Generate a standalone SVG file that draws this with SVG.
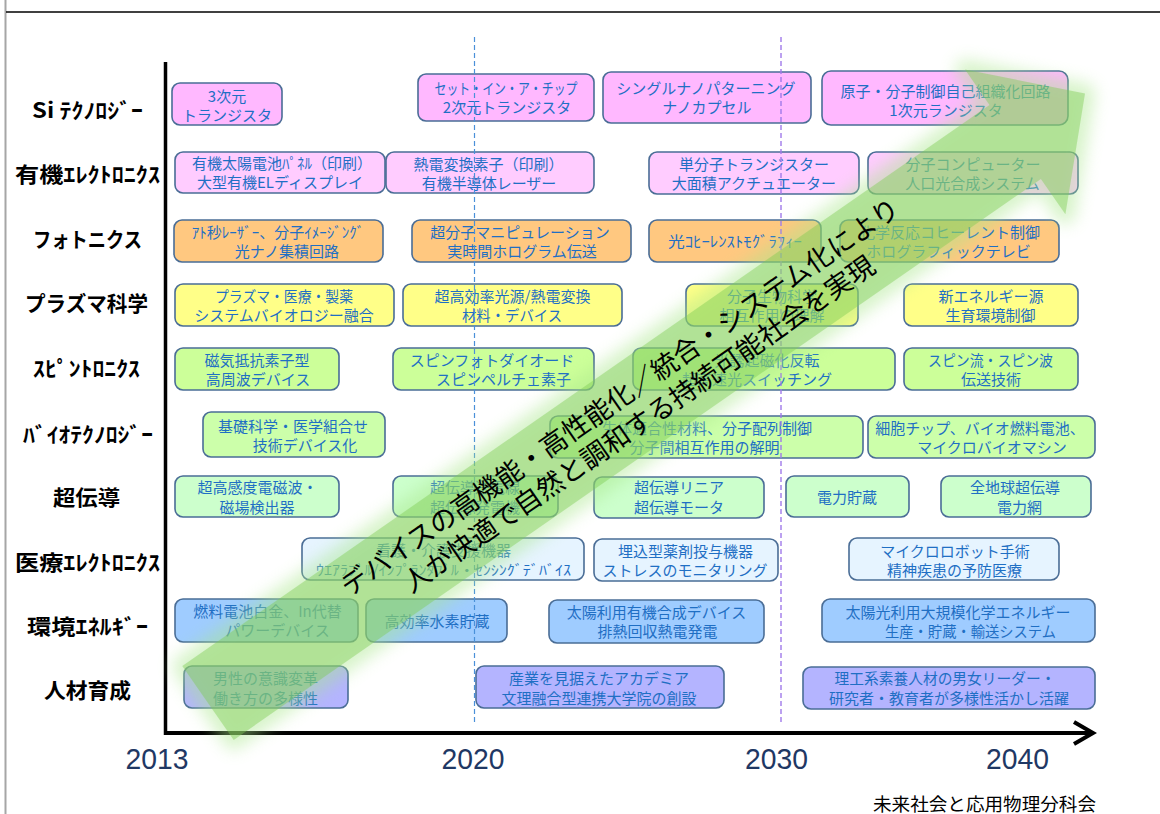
<svg xmlns="http://www.w3.org/2000/svg" width="1160" height="814" viewBox="0 0 1160 814">
<style>
.bx rect{stroke:#4A6D96;stroke-width:1.6}
.bt{font-family:"Noto Sans CJK JP","Noto Sans",sans-serif;font-size:15px;fill:#1F6FC4;text-anchor:middle}
.lbl{font-family:"Noto Sans CJK JP","Noto Sans",sans-serif;font-size:21px;font-weight:700;fill:#000}
.yr{font-family:"Liberation Sans",Arial,sans-serif;font-size:30px;fill:#1F3864}
.at{font-family:"Noto Sans CJK JP","Noto Sans",sans-serif;font-size:27px;fill:#000;text-anchor:middle}
.f1{fill:#FFB8FF}.f2{fill:#FFCCFF}.f3{fill:#FFC880}.f4{fill:#FFFF88}.f5{fill:#CCFF99}
.f6{fill:#CCFFAA}.f7{fill:#CCFFCC}.f8{fill:#E6F4FF}.f9{fill:#9FCCFF}.f10{fill:#B4B4FF}
</style>
<defs>
<filter id="blur" x="-20%" y="-20%" width="140%" height="140%"><feGaussianBlur stdDeviation="8"/></filter>
</defs>
<rect width="1160" height="814" fill="#fff"/>
<g id="frame">
<line x1="5.5" y1="0" x2="5.5" y2="814" stroke="#A6A6A6" stroke-width="2"/>
<line x1="6" y1="12" x2="1160" y2="12" stroke="#000" stroke-width="1.5"/>
</g>

<g id="row-labels">
<g id="lbl-si"><text class="lbl" x="32" y="118" textLength="111" lengthAdjust="spacingAndGlyphs">Si ﾃｸﾉﾛｼﾞｰ</text></g>
<g id="lbl-org"><text class="lbl" x="15" y="182" textLength="145" lengthAdjust="spacingAndGlyphs">有機ｴﾚｸﾄﾛﾆｸｽ</text></g>
<g id="lbl-photo"><text class="lbl" x="33" y="247" textLength="109" lengthAdjust="spacingAndGlyphs">フォトニクス</text></g>
<g id="lbl-plasma"><text class="lbl" x="25" y="311" textLength="123" lengthAdjust="spacingAndGlyphs">プラズマ科学</text></g>
<g id="lbl-spin"><text class="lbl" x="33" y="376" textLength="107" lengthAdjust="spacingAndGlyphs">ｽﾋﾟﾝﾄﾛﾆｸｽ</text></g>
<g id="lbl-bio"><text class="lbl" x="23" y="442" textLength="130" lengthAdjust="spacingAndGlyphs">ﾊﾞｲｵﾃｸﾉﾛｼﾞｰ</text></g>
<g id="lbl-sc"><text class="lbl" x="53" y="505" textLength="67" lengthAdjust="spacingAndGlyphs">超伝導</text></g>
<g id="lbl-med"><text class="lbl" x="15" y="570" textLength="145" lengthAdjust="spacingAndGlyphs">医療ｴﾚｸﾄﾛﾆｸｽ</text></g>
<g id="lbl-env"><text class="lbl" x="27" y="634" textLength="121" lengthAdjust="spacingAndGlyphs">環境ｴﾈﾙｷﾞｰ</text></g>
<g id="lbl-hr"><text class="lbl" x="44" y="698" textLength="87" lengthAdjust="spacingAndGlyphs">人材育成</text></g>
</g>

<g id="nodes">
<g id="n-si-1" class="bx"><rect class="f1" x="172" y="83" width="110" height="42" rx="8"/><text class="bt"><tspan x="227" y="101.7">3次元</tspan><tspan x="227" y="120.7">トランジスタ</tspan></text></g>
<g id="n-si-2" class="bx"><rect class="f1" x="418" y="74" width="176" height="47" rx="8"/><text class="bt"><tspan x="434.5" y="94.2" style="text-anchor:start" textLength="143" lengthAdjust="spacingAndGlyphs">セット・イン・ア・チップ</tspan><tspan x="507" y="113.2">2次元トランジスタ</tspan></text></g>
<g id="n-si-3" class="bx"><rect class="f1" x="603" y="72" width="208" height="51" rx="8"/><text class="bt"><tspan x="706" y="93.5">シングルナノパターニング</tspan><tspan x="707" y="112.5">ナノカプセル</tspan></text></g>
<g id="n-si-4" class="bx"><rect class="f1" x="822" y="71" width="246" height="54" rx="9"/><text class="bt"><tspan x="945.5" y="96.5">原子・分子制御自己組織化回路</tspan><tspan x="946" y="115.5">1次元ランジスタ</tspan></text></g>

<g id="n-org-1" class="bx"><rect class="f2" x="175" y="152" width="210" height="41" rx="8"/><text class="bt"><tspan x="282" y="169">有機太陽電池ﾊﾟﾈﾙ（印刷）</tspan><tspan x="280" y="188.4">大型有機ELディスプレイ</tspan></text></g>
<g id="n-org-2" class="bx"><rect class="f2" x="386" y="152" width="208" height="41" rx="8"/><text class="bt"><tspan x="488.5" y="169.7">熱電変換素子（印刷）</tspan><tspan x="489" y="189">有機半導体レーザー</tspan></text></g>
<g id="n-org-3" class="bx"><rect class="f2" x="649" y="152" width="210" height="42" rx="8"/><text class="bt"><tspan x="754" y="169.5">単分子トランジスター</tspan><tspan x="754" y="189">大面積アクチュエーター</tspan></text></g>
<g id="n-org-4" class="bx"><rect class="f2" x="868" y="152" width="210" height="42" rx="8"/><text class="bt"><tspan x="973" y="169.5">分子コンピューター</tspan><tspan x="972.5" y="189">人口光合成システム</tspan></text></g>

<g id="n-ph-1" class="bx"><rect class="f3" x="174" y="220" width="209" height="42" rx="8"/><text class="bt"><tspan x="278" y="238">ｱﾄ秒ﾚｰｻﾞｰ、分子ｲﾒｰｼﾞﾝｸﾞ</tspan><tspan x="287" y="257">光ナノ集積回路</tspan></text></g>
<g id="n-ph-2" class="bx"><rect class="f3" x="412" y="220" width="219" height="42" rx="8"/><text class="bt"><tspan x="520" y="238">超分子マニピュレーション</tspan><tspan x="522" y="257">実時間ホログラム伝送</tspan></text></g>
<g id="n-ph-3" class="bx"><rect class="f3" x="649" y="220" width="172" height="42" rx="8"/><text class="bt" x="668" y="247" style="text-anchor:start" textLength="134" lengthAdjust="spacingAndGlyphs">光ｺﾋｰﾚﾝｽﾄﾓｸﾞﾗﾌｨｰ</text></g>
<g id="n-ph-4" class="bx"><rect class="f3" x="840" y="220" width="219" height="42" rx="8"/><text class="bt"><tspan x="950" y="238">化学反応コヒーレント制御</tspan><tspan x="948.5" y="257">ホログラフィックテレビ</tspan></text></g>

<g id="n-pl-1" class="bx"><rect class="f4" x="175" y="284" width="219" height="42" rx="8"/><text class="bt"><tspan x="215" y="301.7" style="text-anchor:start" textLength="138" lengthAdjust="spacingAndGlyphs">プラズマ・医療・製薬</tspan><tspan x="284" y="320.7">システムバイオロジー融合</tspan></text></g>
<g id="n-pl-2" class="bx"><rect class="f4" x="403" y="284" width="219" height="42" rx="8"/><text class="bt"><tspan x="512.5" y="301.7">超高効率光源/熱電変換</tspan><tspan x="462" y="320.7" style="text-anchor:start" textLength="100" lengthAdjust="spacingAndGlyphs">材料・デバイス</tspan></text></g>
<g id="n-pl-3" class="bx"><rect class="f4" x="686" y="284" width="172" height="42" rx="8"/><text class="bt"><tspan x="772" y="301.7">分子生物科学</tspan><tspan x="772" y="320.7">相互作用の理解</tspan></text></g>
<g id="n-pl-4" class="bx"><rect class="f4" x="904" y="284" width="174" height="42" rx="8"/><text class="bt"><tspan x="991" y="301.7">新エネルギー源</tspan><tspan x="990.5" y="320.7">生育環境制御</tspan></text></g>

<g id="n-sp-1" class="bx"><rect class="f5" x="175" y="348" width="164" height="42" rx="8"/><text class="bt"><tspan x="257" y="365.7">磁気抵抗素子型</tspan><tspan x="258" y="384.7">高周波デバイス</tspan></text></g>
<g id="n-sp-2" class="bx"><rect class="f5" x="393" y="348" width="201" height="42" rx="8"/><text class="bt"><tspan x="492" y="365.7">スピンフォトダイオード</tspan><tspan x="503.5" y="384.7">スピンペルチェ素子</tspan></text></g>
<g id="n-sp-3" class="bx"><rect class="f5" x="633" y="348" width="262" height="42" rx="8"/><text class="bt"><tspan x="767" y="365.7">光誘起磁化反転</tspan><tspan x="757" y="384.7">超高速光スイッチング</tspan></text></g>
<g id="n-sp-4" class="bx"><rect class="f5" x="904" y="348" width="174" height="42" rx="8"/><text class="bt"><tspan x="928" y="365.7" style="text-anchor:start" textLength="125" lengthAdjust="spacingAndGlyphs">スピン流・スピン波</tspan><tspan x="991" y="384.7">伝送技術</tspan></text></g>

<g id="n-bio-1" class="bx"><rect class="f6" x="203" y="412" width="182" height="45" rx="8"/><text class="bt"><tspan x="293" y="432">基礎科学・医学組合せ</tspan><tspan x="305" y="451">技術デバイス化</tspan></text></g>
<g id="n-bio-2" class="bx"><rect class="f6" x="550" y="416" width="313" height="42" rx="8"/><text class="bt"><tspan x="707" y="434">生体適合性材料、分子配列制御</tspan><tspan x="704.5" y="453">分子間相互作用の解明</tspan></text></g>
<g id="n-bio-3" class="bx"><rect class="f6" x="868" y="416" width="227" height="42" rx="8"/><text class="bt"><tspan x="980" y="433.7">細胞チップ、バイオ燃料電池、</tspan><tspan x="992" y="453">マイクロバイオマシン</tspan></text></g>

<g id="n-sc-1" class="bx"><rect class="f7" x="175" y="476" width="164" height="41" rx="8"/><text class="bt"><tspan x="257.5" y="492.5">超高感度電磁波・</tspan><tspan x="257" y="513">磁場検出器</tspan></text></g>
<g id="n-sc-2" class="bx"><rect class="f7" x="393" y="476" width="165" height="41" rx="8"/><text class="bt"><tspan x="475" y="493">超伝導送電線</tspan><tspan x="475" y="513">超伝導発電機</tspan></text></g>
<g id="n-sc-3" class="bx"><rect class="f7" x="594" y="477" width="170" height="41" rx="8"/><text class="bt"><tspan x="679" y="493">超伝導リニア</tspan><tspan x="679" y="513">超伝導モータ</tspan></text></g>
<g id="n-sc-4" class="bx"><rect class="f7" x="786" y="476" width="123" height="41" rx="8"/><text class="bt" x="847" y="502.5">電力貯蔵</text></g>
<g id="n-sc-5" class="bx"><rect class="f7" x="941" y="476" width="150" height="41" rx="8"/><text class="bt"><tspan x="1015" y="493">全地球超伝導</tspan><tspan x="1019.5" y="513">電力網</tspan></text></g>

<g id="n-med-1" class="bx"><rect class="f8" x="302" y="538" width="282" height="42" rx="8"/><text class="bt"><tspan x="443.5" y="555.5">看護・介護支援機器</tspan></text><text class="bt" x="316" y="574.5" style="text-anchor:start;font-size:14px" textLength="255" lengthAdjust="spacingAndGlyphs">ｳｴｱﾗﾌﾞﾙ/ｲﾝﾌﾟﾗﾝﾀﾌﾞﾙ・ｾﾝｼﾝｸﾞﾃﾞﾊﾞｲｽ</text></g>
<g id="n-med-2" class="bx"><rect class="f8" x="594" y="539" width="184" height="42" rx="8"/><text class="bt"><tspan x="685.5" y="557">埋込型薬剤投与機器</tspan><tspan x="685" y="576">ストレスのモニタリング</tspan></text></g>
<g id="n-med-3" class="bx"><rect class="f8" x="849" y="538" width="210" height="42" rx="8"/><text class="bt"><tspan x="955" y="557">マイクロロボット手術</tspan><tspan x="954.5" y="576">精神疾患の予防医療</tspan></text></g>

<g id="n-env-1" class="bx"><rect class="f9" x="175" y="599" width="183" height="43" rx="8"/><text class="bt"><tspan x="267.5" y="617.4">燃料電池白金、In代替</tspan><tspan x="277.5" y="636.4">パワーデバイス</tspan></text></g>
<g id="n-env-2" class="bx"><rect class="f9" x="366" y="599" width="141" height="43" rx="8"/><text class="bt" x="437" y="627.4">高効率水素貯蔵</text></g>
<g id="n-env-3" class="bx"><rect class="f9" x="549" y="600" width="215" height="43" rx="8"/><text class="bt"><tspan x="656.5" y="618">太陽利用有機合成デバイス</tspan><tspan x="657.5" y="637">排熱回収熱電発電</tspan></text></g>
<g id="n-env-4" class="bx"><rect class="f9" x="822" y="599" width="273" height="43" rx="8"/><text class="bt"><tspan x="958" y="617.5">太陽光利用大規模化学エネルギー</tspan><tspan x="885" y="636.5" style="text-anchor:start" textLength="171" lengthAdjust="spacingAndGlyphs">生産・貯蔵・輸送システム</tspan></text></g>

<g id="n-hr-1" class="bx"><rect class="f10" x="184" y="666" width="164" height="42" rx="8"/><text class="bt"><tspan x="265.5" y="683.7">男性の意識変革</tspan><tspan x="265.5" y="703.7">働き方の多様性</tspan></text></g>
<g id="n-hr-2" class="bx"><rect class="f10" x="476" y="666" width="248" height="42" rx="8"/><text class="bt"><tspan x="599" y="683.7">産業を見据えたアカデミア</tspan><tspan x="599" y="703.7">文理融合型連携大学院の創設</tspan></text></g>
<g id="n-hr-3" class="bx"><rect class="f10" x="803" y="667" width="292" height="42" rx="8"/><text class="bt"><tspan x="834.5" y="683.7" style="text-anchor:start" textLength="221" lengthAdjust="spacingAndGlyphs">理工系素養人材の男女リーダー・</tspan><tspan x="949" y="703.7">研究者・教育者が多様性活かし活躍</tspan></text></g>
</g>

<g id="connectors">
<line x1="474.5" y1="37" x2="474.5" y2="724" stroke="#4A90D9" stroke-width="1.2" stroke-dasharray="5 3"/>
<line x1="781" y1="37" x2="781" y2="724" stroke="#A07AEA" stroke-width="1.4" stroke-dasharray="5 3"/>
<line x1="165.5" y1="62" x2="165.5" y2="735" stroke="#000" stroke-width="3.5"/>
<line x1="164" y1="733" x2="1090" y2="733" stroke="#000" stroke-width="4"/>
<polyline points="1074,722 1093,733 1074,744" fill="none" stroke="#000" stroke-width="4" stroke-linejoin="miter"/>
</g>

<g id="big-arrow">
<polygon points="182.3,666.1 989.5,104.9 965,69.6 1085,93.4 1065.4,214.2 1040.9,178.9 233.7,739.9" fill="#A8E68A" stroke="#A8E68A" stroke-width="20" stroke-linejoin="round" opacity="0.45" filter="url(#blur)"/>
<polygon points="182.3,666.1 989.5,104.9 965,69.6 1085,93.4 1065.4,214.2 1040.9,178.9 233.7,739.9" fill="#7CCB52" fill-opacity="0.42"/>
<g transform="translate(629,410) rotate(-34.8)">
<text class="at" x="0" y="-6.2">デバイスの高機能・高性能化／統合・システム化により</text>
<text class="at" x="0" y="26.8">人が快適で自然と調和する持続可能社会を実現</text>
</g>
</g>

<g id="years">
<text class="yr" x="125.5" y="769" textLength="63" lengthAdjust="spacingAndGlyphs">2013</text>
<text class="yr" x="441.5" y="769" textLength="63" lengthAdjust="spacingAndGlyphs">2020</text>
<text class="yr" x="745" y="769" textLength="63" lengthAdjust="spacingAndGlyphs">2030</text>
<text class="yr" x="986" y="769" textLength="63" lengthAdjust="spacingAndGlyphs">2040</text>
</g>
<g id="footer"><text x="873" y="811" font-family="'Noto Sans CJK JP','Noto Sans',sans-serif" font-size="18.5" fill="#000" textLength="223" lengthAdjust="spacingAndGlyphs">未来社会と応用物理分科会</text></g>
</svg>
